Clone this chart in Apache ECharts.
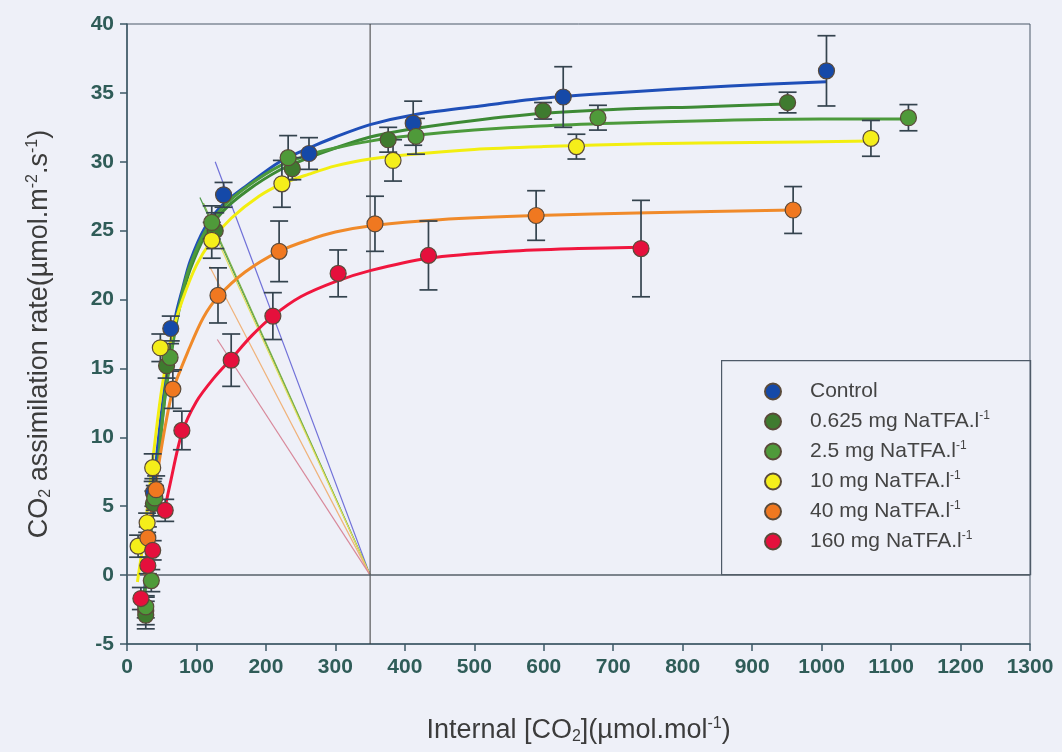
<!DOCTYPE html>
<html>
<head>
<meta charset="utf-8">
<script src="https://cdn.jsdelivr.net/npm/echarts@6/dist/echarts.min.js"></script>
<style>
html,body{margin:0;padding:0;background:#eef0f8;}
#chart{width:1062px;height:752px;}
</style>
</head>
<body>
<div id="chart"></div>
<script>
// ---- Data ----
const groupNames = ['Control', '0.625 mg NaTFA.l', '2.5 mg NaTFA.l', '10 mg NaTFA.l', '40 mg NaTFA.l', '160 mg NaTFA.l'];
const groupSup = ['', '-1', '-1', '-1', '-1', '-1'];

// points: [Ci, A, error]
const ptsControl = [[27,-2.6,1.0],[38,6.0,1.0],[63,17.9,0.9],[139,27.6,0.9],[262,30.6,1.15],[412,32.8,1.6],[628,34.7,2.2],[1007,36.6,2.55]];
const ptsDark = [[27,-2.9,1.0],[38,5.2,0.9],[57,15.2,0.9],[127,25.0,1.3],[238,29.5,0.8],[376,31.6,0.9],[599,33.7,0.6],[951,34.3,0.75]];
const ptsLight = [[27,-2.3,0.8],[35,-0.4,0.8],[40,5.6,0.9],[62,15.8,1.0],[122,25.6,1.2],[232,30.3,1.6],[416,31.85,1.3],[678,33.2,0.9],[1125,33.2,0.95]];
const ptsYellow = [[16,2.1,0.8],[29,3.8,0.7],[37,7.8,1.0],[48,16.5,1.0],[122,24.3,1.3],[223,28.4,1.7],[383,30.1,1.5],[647,31.1,0.9],[1071,31.7,1.3]];
const ptsOrange = [[30,2.7,0.8],[42,6.2,1.0],[66,13.5,1.4],[131,20.3,2.0],[219,23.5,2.2],[357,25.5,2.0],[589,26.1,1.8],[959,26.5,1.7]];
const ptsRed = [[20,-1.7,0.8],[30,0.7,0.6],[37,1.8,0.7],[55,4.7,0.8],[79,10.5,1.4],[150,15.6,1.9],[210,18.8,1.7],[304,21.9,1.7],[434,23.2,2.5],[740,23.7,3.5]];

// fitted curves
const curveControl = [[22,-3],[30,1.5],[42,8.3],[55,14],[70,18.8],[80,20.8],[91,22.8],[112,25.2],[138,26.9],[173,28.3],[220,30.0],[262,31.0],[300,31.8],[350,32.7],[412,33.4],[500,34.0],[595,34.6],[700,35.0],[868,35.5],[1007,35.8]];
const curveDark = [[22,-3.2],[30,1],[45,8.3],[55,13],[70,18],[80,20.3],[91,22.2],[112,24.6],[138,26.4],[173,27.9],[220,29.4],[262,30.3],[300,31.0],[350,31.8],[412,32.4],[500,33.0],[595,33.5],[700,33.8],[830,34.0],[949,34.2]];
const curveLight = [[22,-3.2],[30,1],[45,8.3],[55,13.2],[70,18.2],[80,20.6],[91,22.5],[112,24.9],[138,26.7],[173,28.2],[220,29.7],[262,30.5],[300,31.0],[350,31.5],[412,31.9],[500,32.3],[595,32.6],[700,32.8],[850,33.0],[1000,33.1],[1125,33.1]];
const curveYellow = [[15,-0.5],[25,3],[37,8.3],[50,13.5],[65,17.5],[80,20.0],[100,22.5],[122,24.3],[150,25.9],[190,27.5],[223,28.4],[262,29.1],[300,29.7],[350,30.2],[400,30.5],[500,30.9],[600,31.1],[750,31.3],[900,31.4],[1071,31.5]];
const curveOrange = [[25,0],[35,4.5],[45,7.8],[55,10.8],[66,13.4],[90,16.5],[110,18.7],[131,20.2],[170,22.0],[219,23.5],[260,24.3],[300,24.9],[357,25.4],[450,25.8],[589,26.1],[750,26.3],[959,26.5]];
const curveRed = [[52,4.2],[62,6.6],[79,10.3],[100,12.6],[125,14.3],[150,15.7],[180,17.4],[210,18.8],[250,20.2],[300,21.3],[350,22.1],[434,23.0],[550,23.5],[650,23.7],[740,23.8]];

// supply-function lines to (Ca = 350, A = 0)
const supplyControl = [[127,30.0],[350,0]];
const supplyDark = [[105,27.4],[350,0]];
const supplyLight = [[110,27.0],[350,0]];
const supplyYellow = [[115,26.0],[350,0]];
const supplyOrange = [[119,22.4],[350,0]];
const supplyRed = [[130,17.1],[350,0]];

const ambientCO2 = 350;

// ---- Styling ----
const fills = ['#1549a8', '#3f7b2f', '#4f9a3a', '#f5ee1a', '#f07820', '#e5103c'];
const lineColors = ['#1f4fb8', '#3d8a35', '#4c9a3c', '#f2ee10', '#f08a2a', '#f0163e'];
const supplyColors = ['#7070d8', '#4e9a4a', '#7ab048', '#e6e060', '#f0b27a', '#d8889a'];

const pts = [ptsControl, ptsDark, ptsLight, ptsYellow, ptsOrange, ptsRed];
const curves = [curveControl, curveDark, curveLight, curveYellow, curveOrange, curveRed];
const supplies = [supplyControl, supplyDark, supplyLight, supplyYellow, supplyOrange, supplyRed];

const chart = echarts.init(document.getElementById('chart'));
const series = [];

// supply lines
supplies.forEach((d, i) => {
  series.push({ type: 'line', name: 's' + i, data: d, showSymbol: false, silent: true, z: 1,
    lineStyle: { color: supplyColors[i], width: 1.2 } });
});
// reference lines
series.push({ type: 'line', name: 'vref', data: [[ambientCO2, -5], [ambientCO2, 40]], showSymbol: false, silent: true, z: 1,
  lineStyle: { color: '#3a3a3a', width: 1 } });
series.push({ type: 'line', name: 'href', data: [[0, 0], [1300, 0]], showSymbol: false, silent: true, z: 1,
  lineStyle: { color: '#56606a', width: 1.5 } });
// curves
curves.forEach((d, i) => {
  series.push({ type: 'line', name: 'c' + i, data: d, showSymbol: false, smooth: 0.3, silent: true, z: 2,
    lineStyle: { color: lineColors[i], width: 3 } });
});
// error bars
pts.forEach((d, i) => {
  series.push({ type: 'custom', name: 'e' + i, data: d, z: 3, silent: true,
    encode: { x: 0, y: 1 },
    renderItem: function (params, api) {
      const x = api.value(0), y = api.value(1), e = api.value(2);
      const t = api.coord([x, y + e]), b = api.coord([x, y - e]);
      const w = 9, st = { stroke: '#34434e', lineWidth: 1.7 };
      return { type: 'group', children: [
        { type: 'line', shape: { x1: t[0], y1: t[1], x2: b[0], y2: b[1] }, style: st },
        { type: 'line', shape: { x1: t[0] - w, y1: t[1], x2: t[0] + w, y2: t[1] }, style: st },
        { type: 'line', shape: { x1: b[0] - w, y1: b[1], x2: b[0] + w, y2: b[1] }, style: st }
      ] };
    }
  });
});
// markers
pts.forEach((d, i) => {
  series.push({ type: 'scatter', name: groupNames[i], data: d.map(p => [p[0], p[1]]), symbol: 'circle', symbolSize: 16, z: 4,
    itemStyle: { color: fills[i], borderColor: '#5a4a3a', borderWidth: 1.2, opacity: 1 } });
});

const axisTeal = '#2f5c58';
const titleRich = { sub: { fontSize: 16, padding: [12, 0, 0, 0], color: '#3c3c3c' }, sup: { fontSize: 16, padding: [0, 0, 14, 0], color: '#3c3c3c' } };
chart.setOption({
  backgroundColor: '#eef0f8',
  animation: false,
  grid: { left: 127, right: 32, top: 24, bottom: 108, show: true, borderColor: '#4a5868', borderWidth: 1, backgroundColor: 'transparent' },
  xAxis: {
    type: 'value', min: 0, max: 1300, interval: 100,
    name: 'Internal [CO{sub|2}](\u00b5mol.mol{sup|-1})', nameLocation: 'middle', nameGap: 72,
    nameTextStyle: { color: '#3c3c3c', fontSize: 27, fontFamily: 'Liberation Sans, Arial, sans-serif', rich: titleRich },
    axisLine: { onZero: false, lineStyle: { color: '#3d5866', width: 1.5 } },
    axisTick: { show: true, length: 7, lineStyle: { color: '#3d5866', width: 1.5 } },
    axisLabel: { color: axisTeal, fontSize: 21, fontWeight: 'bold', margin: 13, fontFamily: 'Liberation Sans, Arial, sans-serif',
      formatter: function (v) { return String(v); } },
    splitLine: { show: false }
  },
  yAxis: {
    type: 'value', min: -5, max: 40, interval: 5,
    name: 'CO{sub|2} assimilation rate(\u00b5mol.m{sup|-2}.s{sup|-1})', nameLocation: 'middle', nameGap: 72, nameRotate: 90,
    nameTextStyle: { color: '#3c3c3c', fontSize: 27, fontFamily: 'Liberation Sans, Arial, sans-serif', rich: titleRich },
    axisLine: { show: true, onZero: false, lineStyle: { color: '#3d5866', width: 1.5 } },
    axisTick: { show: true, length: 7, lineStyle: { color: '#3d5866', width: 1.5 } },
    axisLabel: { color: axisTeal, fontSize: 21, fontWeight: 'bold', margin: 13, fontFamily: 'Liberation Sans, Arial, sans-serif' },
    splitLine: { show: false }
  },
  legend: {
    data: groupNames, orient: 'vertical', left: 759, top: 376, itemGap: 8,
    itemWidth: 16, itemHeight: 17, icon: 'circle', selectedMode: false,
    formatter: function (name) { const i = groupNames.indexOf(name); return groupSup[i] ? name + '{s|' + groupSup[i] + '}' : name; },
    textStyle: { color: '#444', fontSize: 21, fontFamily: 'Liberation Sans, Arial, sans-serif', padding: [0, 0, 0, 24],
      rich: { s: { fontSize: 12, color: '#444', padding: [0, 0, 11, 0] } } }
  },
  graphic: [{ type: 'rect', left: 721, top: 360, shape: { width: 309, height: 214 }, z: 0,
    style: { fill: 'transparent', stroke: '#4e5a68', lineWidth: 1.2 } }],
  series: series
});
</script>
</body>
</html>
